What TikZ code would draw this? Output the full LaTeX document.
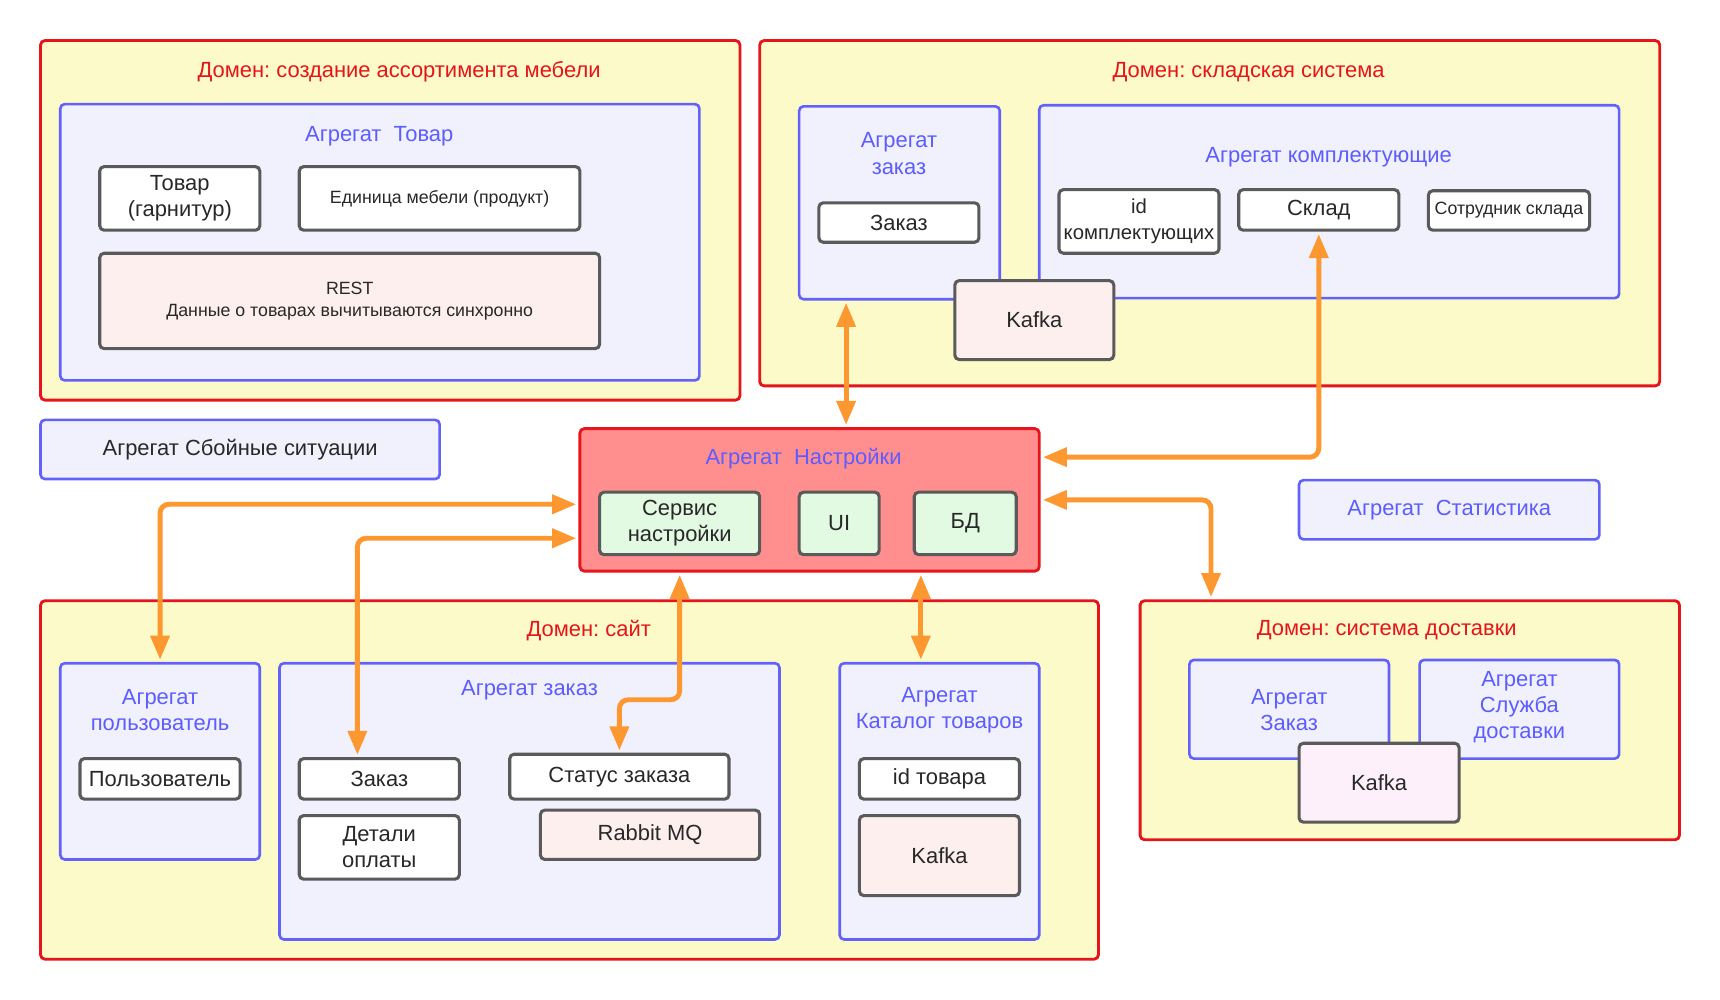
\documentclass[tikz,border=0pt]{standalone}
\usepackage{fontspec}
\setmainfont{Liberation Sans}
\usetikzlibrary{arrows.meta}
\definecolor{domred}{RGB}{230,20,27}
\definecolor{domfill}{RGB}{252,250,200}
\definecolor{aggblue}{RGB}{98,98,250}
\definecolor{aggtext}{RGB}{92,92,255}
\definecolor{aggfill}{RGB}{241,241,253}
\definecolor{elemgray}{RGB}{90,90,90}
\definecolor{elemtext}{RGB}{40,40,40}
\definecolor{msgfill}{RGB}{253,239,238}
\definecolor{msgpink}{RGB}{253,240,251}
\definecolor{nastrfill}{RGB}{255,143,143}
\definecolor{greenfill}{RGB}{226,249,226}
\definecolor{linkorange}{RGB}{253,152,48}
\newcommand\bigtxt{\fontsize{20}{24}\selectfont}
\newcommand\midtxt{\fontsize{18.5}{24}\selectfont}
\newcommand\smalltxt{\fontsize{16.2}{20}\selectfont}
\frenchspacing
\begin{document}
\begin{tikzpicture}[x=1pt,y=-1pt]
\tikzset{sz/.style 2 args={minimum width=#1pt, minimum height=#2pt, inner sep=0pt},
  dombox/.style={draw=domred, fill=domfill, line width=2.6pt, rounded corners=4pt},
  domtitle/.style={text=domred, font=\bigtxt, yshift=-2pt},
  aggbox/.style={draw=aggblue, fill=aggfill, line width=2.4pt, rounded corners=4pt},
  aggtitle/.style={text=aggtext, font=\bigtxt, align=center, yshift=-2pt},
  elem/.style={draw=elemgray, fill=white, line width=2.8pt, rounded corners=4pt, text=elemtext, font=\bigtxt, align=center},
  msgbox/.style={elem, fill=msgfill},
  greenbox/.style={elem, fill=greenfill},
  link/.style={draw=linkorange, line width=4.5pt, rounded corners=8pt, {Triangle[length=22pt,width=17pt]}-{Triangle[length=22pt,width=17pt]}, shorten <=2pt, shorten >=2pt}}
\useasboundingbox (0,0) rectangle (1569,912);

\node[dombox, sz={638}{328}] (dom1) at (356,201) {};
\node[domtitle] (dom1t) at (364,63) {Домен: создание ассортимента мебели};
\node[aggbox, sz={583}{252}] (aggTovar) at (346.5,221) {};
\node[aggtitle] (aggTovart) at (346,122) {Агрегат \ Товар};
\node[elem, sz={146}{58}] (tovar) at (164,181) {Товар\\(гарнитур)};
\node[elem, sz={256}{58}, font=\smalltxt] (edinica) at (401,181) {Единица мебели (продукт)};
\node[msgbox, sz={456}{87}, font=\smalltxt] (rest) at (319,274.5) {REST\\Данные о товарах вычитываются синхронно};

\node[dombox, sz={821}{315}] (dom2) at (1103.5,194.5) {};
\node[domtitle] (dom2t) at (1139,64) {Домен: складская система};
\node[aggbox, sz={183}{176}] (aggZakazW) at (820.5,185) {};
\node[aggtitle] (aggZakazWt) at (820,138) {Агрегат\\заказ};
\node[elem, sz={146}{36}] (zakazW) at (820,203) {Заказ};
\node[aggbox, sz={529}{176}] (aggKompl) at (1212.5,184) {};
\node[aggtitle] (aggKomplt) at (1212,141) {Агрегат комплектующие};
\node[elem, sz={146}{58}, font=\midtxt] (idKompl) at (1039,202) {id\\комплектующих};
\node[elem, sz={146}{37}] (sklad) at (1203,191.5) {Склад};
\node[elem, sz={147}{36}, font=\smalltxt] (sotr) at (1376.5,192) {Сотрудник склада};
\node[msgbox, sz={145}{72}] (kafkaW) at (943.5,292) {Kafka};

\node[aggbox, sz={364}{54}, text=elemtext, font=\bigtxt] (sboi) at (219,410) {Агрегат Сбойные ситуации};

\node[dombox, fill=nastrfill, sz={419}{130}] (nastr) at (738.5,456) {};
\node[aggtitle] (nastrt) at (733,416) {Агрегат \ Настройки};
\node[greenbox, sz={146}{57}] (servis) at (620,477.5) {Сервис\\настройки};
\node[greenbox, sz={73}{57}] (ui) at (765.5,477.5) {UI};
\node[greenbox, sz={93}{57}] (bd) at (880.5,477.5) {БД};

\node[aggbox, sz={274}{54}, text=aggtext, font=\bigtxt] (stat) at (1322,465) {Агрегат \ Статистика};

\node[dombox, sz={965}{327}] (dom3) at (519.5,711.5) {};
\node[domtitle] (dom3t) at (537,573) {Домен: сайт};
\node[aggbox, sz={182}{179}] (aggUser) at (146,694.5) {};
\node[aggtitle] (aggUsert) at (146,646) {Агрегат\\пользователь};
\node[elem, sz={146}{37}] (user) at (146,710.5) {Пользователь};
\node[aggbox, sz={456}{252}] (aggZakazS) at (483,731) {};
\node[aggtitle] (aggZakazSt) at (483,628) {Агрегат заказ};
\node[elem, sz={146}{37}] (zakazS) at (346,710.5) {Заказ};
\node[elem, sz={146}{58}] (detali) at (346,773) {Детали\\оплаты};
\node[elem, sz={200}{41}] (status) at (565,708.5) {Статус заказа};
\node[msgbox, sz={200}{45}] (rabbit) at (593,761.5) {Rabbit MQ};
\node[aggbox, sz={182}{252}] (aggKatalog) at (857,731) {};
\node[aggtitle] (aggKatalogt) at (857,646) {Агрегат\\Каталог товаров};
\node[elem, sz={146}{37}] (idTovar) at (857,710.5) {id товара};
\node[msgbox, sz={146}{73}] (kafkaK) at (857,780.5) {Kafka};

\node[dombox, sz={492}{218}] (dom4) at (1286,657) {};
\node[domtitle] (dom4t) at (1265,573) {Домен: система доставки};
\node[aggbox, sz={182}{90}] (aggZakazD) at (1176,647) {};
\node[aggtitle] (aggZakazDt) at (1176,646) {Агрегат\\Заказ};
\node[aggbox, sz={182}{90}] (aggSluzhba) at (1386,647) {};
\node[aggtitle] (aggSluzhbat) at (1386,643) {Агрегат\\Служба\\доставки};
\node[msgbox, fill=msgpink, sz={146}{72}] (kafkaD) at (1258,714) {Kafka};

\draw[link] ([xshift=44pt]aggZakazW.south west) -- ([xshift=44pt]aggZakazW.south west |- nastr.north);
\draw[link] (sklad.south) |- ([yshift=39pt]nastr.east);
\draw[link] (nastr.east) -| ([xshift=66pt]dom4.north west);
\draw[link] ([yshift=-4pt]nastr.west) -| (aggUser.north);
\draw[link] ([yshift=-35pt]nastr.west) -| ([xshift=-20pt]zakazS.north);
\draw[link] (servis.south |- nastr.south) -- ++(0,116) -| (status.north);
\draw[link] ([xshift=-17pt]aggKatalog.north |- nastr.south) -- ([xshift=-17pt]aggKatalog.north);
\end{tikzpicture}
\end{document}
